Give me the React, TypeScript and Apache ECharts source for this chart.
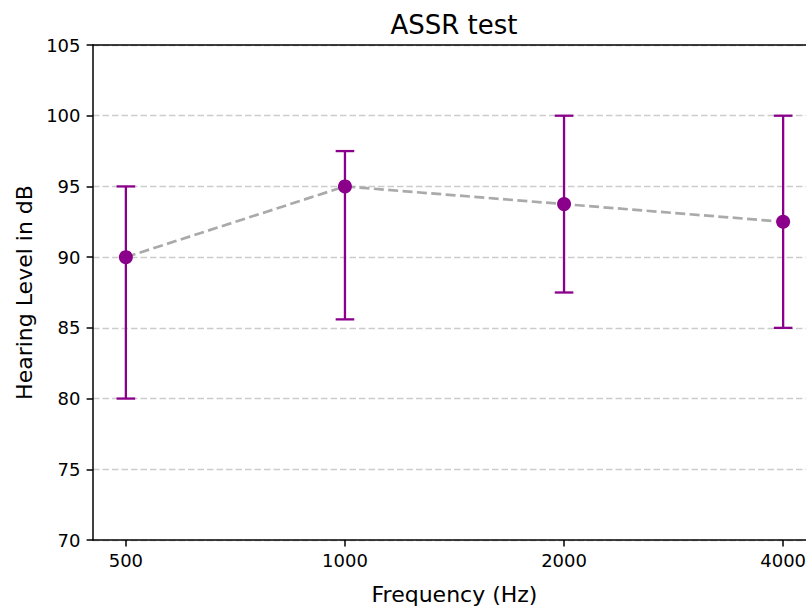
import React, { useEffect, useRef } from "react";
import * as echarts from "echarts";

const frequencies = [500, 1000, 2000, 4000];
const meanLevels = [90, 95, 93.75, 92.5];
const lowerBounds = [80, 85.6, 87.5, 85];
const upperBounds = [95, 97.5, 100, 100];
const xTickLabels = ["500", "1000", "2000", "4000"];
const yMin = 70;
const yMax = 105;
const yStep = 5;

const PURPLE = "#8B008B";
const FONT = "DejaVu Sans";

export default function App() {
  const ref = useRef<HTMLDivElement>(null);

  useEffect(() => {
    if (!ref.current) return;
    const chart = echarts.init(ref.current, null, { renderer: "svg" });
    // log-axis margins like matplotlib (5% of 3 octaves on each side)
    const pad = Math.pow(2, 0.15);
    const xMin = frequencies[0] / pad;
    const xMax = frequencies[frequencies.length - 1] * pad;

    const option: any = {
      animation: false,
      backgroundColor: "#ffffff",
      textStyle: { fontFamily: FONT },
      title: {
        text: "ASSR test",
        left: "center",
        top: 7,
        textStyle: { fontFamily: FONT, fontSize: 26, fontWeight: "normal", color: "#000" },
      },
      grid: { left: 93, top: 45, right: 92, bottom: 66 },
      xAxis: [
        {
          type: "log",
          logBase: 2,
          min: xMin,
          max: xMax,
          position: "bottom",
          name: "Frequency (Hz)",
          nameLocation: "middle",
          nameGap: 43,
          nameTextStyle: { fontFamily: FONT, fontSize: 22, color: "#000" },
          axisLine: { show: true, lineStyle: { color: "#000", width: 1.5 } },
          axisTick: {
            show: true,
            length: 6.4,
            customValues: frequencies,
            lineStyle: { color: "#000", width: 1.5 },
          },
          axisLabel: {
            customValues: frequencies,
            formatter: (v: number) => {
              const i = frequencies.indexOf(Math.round(v));
              return i >= 0 ? xTickLabels[i] : String(Math.round(v));
            },
            margin: 11.5,
            fontFamily: FONT,
            fontSize: 18,
            color: "#000",
          },
          splitLine: { show: false },
          minorTick: { show: false },
          minorSplitLine: { show: false },
        },
        {
          type: "log",
          logBase: 2,
          min: xMin,
          max: xMax,
          position: "top",
          axisLine: { show: true, onZero: false, lineStyle: { color: "#000", width: 1.5 } },
          axisTick: { show: false },
          axisLabel: { show: false },
          splitLine: { show: false },
        },
      ],
      yAxis: {
        type: "value",
        min: yMin,
        max: yMax,
        interval: yStep,
        name: "Hearing Level in dB",
        nameLocation: "middle",
        nameGap: 58,
        nameTextStyle: { fontFamily: FONT, fontSize: 22, color: "#000" },
        axisLine: { show: true, lineStyle: { color: "#000", width: 1.5 } },
        axisTick: { show: true, length: 6.4, lineStyle: { color: "#000", width: 1.5 } },
        axisLabel: { margin: 12.5, fontFamily: FONT, fontSize: 18, color: "#000" },
        splitLine: {
          show: true,
          lineStyle: { color: "#cccccc", width: 1.4, type: [6.5, 3] },
        },
      },
      series: [
        {
          type: "line",
          xAxisIndex: 0,
          data: frequencies.map((f, i) => [f, meanLevels[i]]),
          symbol: "none",
          lineStyle: { color: "#aaaaaa", width: 2.7, type: [10, 4.4] },
          z: 1,
        },
        {
          type: "custom",
          xAxisIndex: 0,
          data: frequencies.map((f, i) => [f, lowerBounds[i], upperBounds[i]]),
          encode: { x: 0, y: [1, 2] },
          renderItem: (params: any, api: any) => {
            const x = api.value(0);
            const lo = api.coord([x, api.value(1)]);
            const hi = api.coord([x, api.value(2)]);
            const cap = 9.3;
            const style = { stroke: PURPLE, lineWidth: 2.3 };
            return {
              type: "group",
              children: [
                { type: "line", shape: { x1: hi[0], y1: hi[1], x2: lo[0], y2: lo[1] }, style },
                { type: "line", shape: { x1: hi[0] - cap, y1: hi[1], x2: hi[0] + cap, y2: hi[1] }, style },
                { type: "line", shape: { x1: lo[0] - cap, y1: lo[1], x2: lo[0] + cap, y2: lo[1] }, style },
              ],
            };
          },
          z: 2,
        },
        {
          type: "scatter",
          xAxisIndex: 0,
          data: frequencies.map((f, i) => [f, meanLevels[i]]),
          symbol: "circle",
          symbolSize: 14,
          itemStyle: { color: PURPLE, opacity: 1 },
          z: 3,
        },
      ],
    };
    chart.setOption(option);
    return () => chart.dispose();
  }, []);

  return (
    <div
      style={{
        position: "fixed",
        left: 0,
        top: 0,
        width: 806,
        height: 610,
        overflow: "hidden",
        background: "#fff",
      }}
    >
      <div ref={ref} style={{ width: 908, height: 610 }} />
    </div>
  );
}
